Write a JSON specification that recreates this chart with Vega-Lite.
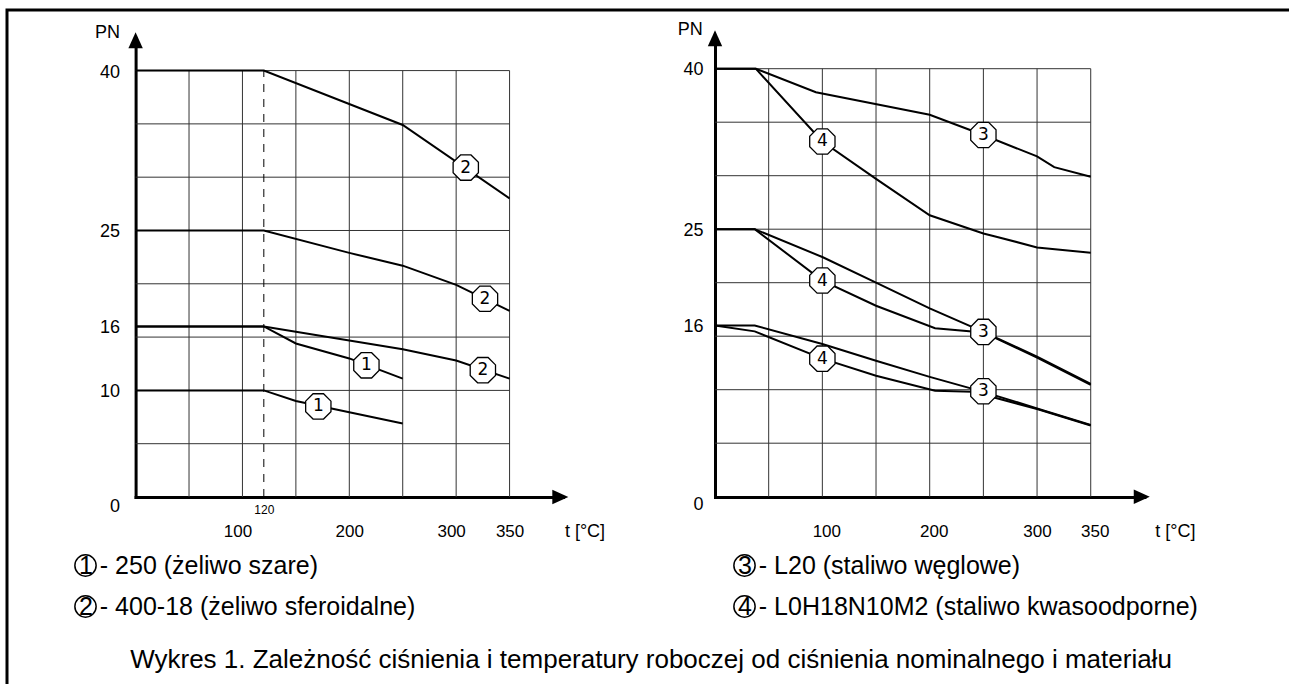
{
  "$schema": "https://vega.github.io/schema/vega-lite/v6.json",
  "width": 1289,
  "height": 684,
  "autosize": {"type": "fit", "contains": "padding"},
  "padding": {"left": 7, "top": 10, "right": -6, "bottom": -6},
  "background": "white",
  "config": {
    "view": {"stroke": "black", "strokeWidth": 3},
    "font": "Liberation Sans"
  },
  "title": {
    "text": "Wykres 1. Zależność ciśnienia i temperatury roboczej od ciśnienia nominalnego i materiału",
    "orient": "bottom",
    "frame": "group",
    "anchor": "middle",
    "offset": -30,
    "baseline": "middle",
    "fontSize": 26,
    "fontWeight": "normal",
    "font": "Liberation Sans",
    "color": "black"
  },
  "datasets": {
    "gridV": [
      {"t": 50, "pn": 0, "pn2": 40}, {"t": 100, "pn": 0, "pn2": 40}, {"t": 150, "pn": 0, "pn2": 40}, {"t": 200, "pn": 0, "pn2": 40},
      {"t": 250, "pn": 0, "pn2": 40}, {"t": 300, "pn": 0, "pn2": 40}, {"t": 350, "pn": 0, "pn2": 40}
    ],
    "gridH": [
      {"pn": 5, "t": 0, "t2": 350}, {"pn": 10, "t": 0, "t2": 350}, {"pn": 15, "t": 0, "t2": 350}, {"pn": 20, "t": 0, "t2": 350},
      {"pn": 25, "t": 0, "t2": 350}, {"pn": 30, "t": 0, "t2": 350}, {"pn": 35, "t": 0, "t2": 350}, {"pn": 40, "t": 0, "t2": 350}
    ],
    "limitL": [{"t": 120, "pn": 0, "pn2": 40}],
    "arrowX": [{"t": 405, "pn": 0}],
    "arrowY": [{"t": 0, "pn": 43.6}],
    "curvesL": [
      {"c": "2-40", "mat": "2", "t": 0, "pn": 40}, {"c": "2-40", "mat": "2", "t": 120, "pn": 40}, {"c": "2-40", "mat": "2", "t": 250, "pn": 34.9}, {"c": "2-40", "mat": "2", "t": 350, "pn": 28.0},
      {"c": "2-25", "mat": "2", "t": 0, "pn": 25}, {"c": "2-25", "mat": "2", "t": 120, "pn": 25}, {"c": "2-25", "mat": "2", "t": 200, "pn": 22.9}, {"c": "2-25", "mat": "2", "t": 250, "pn": 21.7}, {"c": "2-25", "mat": "2", "t": 300, "pn": 19.9}, {"c": "2-25", "mat": "2", "t": 350, "pn": 17.45},
      {"c": "2-16", "mat": "2", "t": 0, "pn": 16}, {"c": "2-16", "mat": "2", "t": 120, "pn": 16}, {"c": "2-16", "mat": "2", "t": 250, "pn": 13.85}, {"c": "2-16", "mat": "2", "t": 300, "pn": 12.8}, {"c": "2-16", "mat": "2", "t": 350, "pn": 11.1},
      {"c": "1-16", "mat": "1", "t": 0, "pn": 16}, {"c": "1-16", "mat": "1", "t": 120, "pn": 16}, {"c": "1-16", "mat": "1", "t": 150, "pn": 14.4}, {"c": "1-16", "mat": "1", "t": 200, "pn": 13.0}, {"c": "1-16", "mat": "1", "t": 250, "pn": 11.1},
      {"c": "1-10", "mat": "1", "t": 0, "pn": 10}, {"c": "1-10", "mat": "1", "t": 120, "pn": 10}, {"c": "1-10", "mat": "1", "t": 150, "pn": 9.0}, {"c": "1-10", "mat": "1", "t": 250, "pn": 6.9}
    ],
    "markersL": [
      {"m": "2", "t": 309, "pn": 30.9},
      {"m": "2", "t": 327, "pn": 18.6},
      {"m": "2", "t": 325, "pn": 11.9},
      {"m": "1", "t": 216, "pn": 12.35},
      {"m": "1", "t": 171, "pn": 8.5}
    ],
    "curvesR": [
      {"c": "3-40", "mat": "3", "t": 0, "pn": 40}, {"c": "3-40", "mat": "3", "t": 38, "pn": 40}, {"c": "3-40", "mat": "3", "t": 94, "pn": 37.8}, {"c": "3-40", "mat": "3", "t": 200, "pn": 35.7}, {"c": "3-40", "mat": "3", "t": 250, "pn": 33.8}, {"c": "3-40", "mat": "3", "t": 300, "pn": 31.8}, {"c": "3-40", "mat": "3", "t": 316, "pn": 30.8}, {"c": "3-40", "mat": "3", "t": 350, "pn": 29.9},
      {"c": "4-40", "mat": "4", "t": 0, "pn": 40}, {"c": "4-40", "mat": "4", "t": 38, "pn": 40}, {"c": "4-40", "mat": "4", "t": 100, "pn": 33.2}, {"c": "4-40", "mat": "4", "t": 150, "pn": 29.7}, {"c": "4-40", "mat": "4", "t": 200, "pn": 26.3}, {"c": "4-40", "mat": "4", "t": 250, "pn": 24.6}, {"c": "4-40", "mat": "4", "t": 262, "pn": 24.3}, {"c": "4-40", "mat": "4", "t": 300, "pn": 23.3}, {"c": "4-40", "mat": "4", "t": 350, "pn": 22.8},
      {"c": "3-25", "mat": "3", "t": 0, "pn": 25}, {"c": "3-25", "mat": "3", "t": 37, "pn": 25}, {"c": "3-25", "mat": "3", "t": 100, "pn": 22.4}, {"c": "3-25", "mat": "3", "t": 150, "pn": 20.0}, {"c": "3-25", "mat": "3", "t": 200, "pn": 17.6}, {"c": "3-25", "mat": "3", "t": 250, "pn": 15.4}, {"c": "3-25", "mat": "3", "t": 300, "pn": 13.1}, {"c": "3-25", "mat": "3", "t": 350, "pn": 10.55},
      {"c": "4-25", "mat": "4", "t": 0, "pn": 25}, {"c": "4-25", "mat": "4", "t": 37, "pn": 25}, {"c": "4-25", "mat": "4", "t": 100, "pn": 20.2}, {"c": "4-25", "mat": "4", "t": 150, "pn": 17.85}, {"c": "4-25", "mat": "4", "t": 205, "pn": 15.75}, {"c": "4-25", "mat": "4", "t": 250, "pn": 15.35}, {"c": "4-25", "mat": "4", "t": 300, "pn": 13.0}, {"c": "4-25", "mat": "4", "t": 350, "pn": 10.45},
      {"c": "3-16", "mat": "3", "t": 0, "pn": 16}, {"c": "3-16", "mat": "3", "t": 37, "pn": 16}, {"c": "3-16", "mat": "3", "t": 100, "pn": 14.27}, {"c": "3-16", "mat": "3", "t": 150, "pn": 12.7}, {"c": "3-16", "mat": "3", "t": 200, "pn": 11.2}, {"c": "3-16", "mat": "3", "t": 250, "pn": 9.8}, {"c": "3-16", "mat": "3", "t": 300, "pn": 8.25}, {"c": "3-16", "mat": "3", "t": 350, "pn": 6.7},
      {"c": "4-16", "mat": "4", "t": 0, "pn": 16}, {"c": "4-16", "mat": "4", "t": 37, "pn": 15.45}, {"c": "4-16", "mat": "4", "t": 100, "pn": 12.9}, {"c": "4-16", "mat": "4", "t": 150, "pn": 11.3}, {"c": "4-16", "mat": "4", "t": 205, "pn": 9.9}, {"c": "4-16", "mat": "4", "t": 240, "pn": 9.8}, {"c": "4-16", "mat": "4", "t": 300, "pn": 8.2}, {"c": "4-16", "mat": "4", "t": 350, "pn": 6.65}
    ],
    "markersR": [
      {"m": "4", "t": 100, "pn": 33.2},
      {"m": "3", "t": 250, "pn": 33.8},
      {"m": "4", "t": 100, "pn": 20.2},
      {"m": "3", "t": 250, "pn": 15.4},
      {"m": "4", "t": 100, "pn": 12.9},
      {"m": "3", "t": 250, "pn": 9.85}
    ]
  },
  "layer": [
    {
      "encoding": {
        "x": {
          "field": "t", "type": "quantitative",
          "scale": {"domain": [0, 400], "range": [128.6, 556.0], "nice": false, "zero": false},
          "axis": {
            "orient": "bottom", "offset": -193, "values": [100, 120, 200, 300, 350],
            "grid": false, "ticks": false, "tickSize": 0,
            "domainColor": "black", "domainWidth": 3, "domainCap": "square",
            "labelColor": "black", "labelFont": "Liberation Sans", "labelBaseline": "middle",
            "labelFontSize": {"condition": {"test": "datum.value === 120", "value": 12}, "value": 17},
            "labelPadding": {"condition": {"test": "datum.value === 120", "value": 12}, "value": 34},
            "labelOffset": {"condition": {"test": "datum.value === 100 || datum.value === 300", "value": -5}, "value": 0},
            "labelOverlap": false, "labelFlush": false,
            "title": "t [°C]", "titleX": 577.5, "titleY": 34, "titleAlign": "center", "titleBaseline": "middle",
            "titleFontSize": 18, "titleFontWeight": "normal", "titleFont": "Liberation Sans", "titleColor": "black"
          }
        },
        "y": {
          "field": "pn", "type": "quantitative",
          "scale": {"domain": [0, 43], "range": [487, 28.6], "nice": false, "zero": false},
          "axis": {
            "orient": "left", "offset": -128.6, "values": [0, 10, 16, 25, 40],
            "grid": false, "ticks": false, "tickSize": 0,
            "domainColor": "black", "domainWidth": 3, "domainCap": "square",
            "labelColor": "black", "labelFont": "Liberation Sans", "labelFontSize": 18,
            "labelPadding": 16, "labelBaseline": "middle", "labelAlign": "right",
            "labelOffset": {"condition": {"test": "datum.value === 0", "value": 9}, "value": 1.5},
            "labelOverlap": false, "labelFlush": false,
            "title": "PN", "titleAngle": 0, "titleX": -28.6, "titleY": 22, "titleAlign": "center", "titleBaseline": "middle",
            "titleFontSize": 18, "titleFontWeight": "normal", "titleFont": "Liberation Sans", "titleColor": "black"
          }
        }
      },
      "layer": [
        {
          "data": {"name": "gridV"},
          "mark": {"type": "rule", "color": "#333333", "strokeWidth": 1},
          "encoding": {"y2": {"field": "pn2"}}
        },
        {
          "data": {"name": "gridH"},
          "mark": {"type": "rule", "color": "#333333", "strokeWidth": 1},
          "encoding": {"x2": {"field": "t2"}}
        },
        {
          "data": {"name": "limitL"},
          "mark": {"type": "rule", "color": "black", "strokeWidth": 1, "strokeDash": [8, 7]},
          "encoding": {"y2": {"field": "pn2"}}
        },
        {
          "data": {"name": "curvesL"},
          "mark": {"type": "line", "strokeWidth": 2},
          "encoding": {
            "detail": {"field": "c"},
            "color": {
              "field": "mat", "type": "nominal",
              "scale": {"domain": ["1", "2"], "range": ["black", "black"]},
              "legend": {
                "orient": "none", "legendX": 66, "legendY": 543, "title": null,
                "symbolType": "circle", "symbolSize": 452, "symbolStrokeWidth": 1.5,
                "symbolStrokeColor": "black", "symbolFillColor": "transparent", "symbolOpacity": 1,
                "labelFontSize": 25, "labelFont": "Liberation Sans", "labelColor": "black",
                "labelLimit": 1000, "labelOffset": -19, "rowPadding": 12, "padding": 0,
                "labelExpr": "datum.label === '1' ? '1 - 250 (żeliwo szare)' : '2 - 400-18 (żeliwo sferoidalne)'"
              }
            }
          }
        },
        {
          "data": {"name": "markersL"},
          "mark": {"type": "point", "shape": "M-0.414,-1L0.414,-1L1,-0.414L1,0.414L0.414,1L-0.414,1L-1,0.414L-1,-0.414Z", "size": 640, "filled": true, "fill": "white", "stroke": "black", "strokeWidth": 1.3, "opacity": 1}
        },
        {
          "data": {"name": "markersL"},
          "mark": {"type": "text", "fontSize": 17, "font": "DejaVu Sans", "fontWeight": "normal", "color": "black", "align": "center", "baseline": "middle"},
          "encoding": {"text": {"field": "m"}}
        },
        {
          "data": {"name": "arrowX"},
          "mark": {"type": "point", "shape": "M0,0L-2,-0.9L-2,0.9Z", "size": 256, "filled": true, "color": "black", "opacity": 1}
        },
        {
          "data": {"name": "arrowY"},
          "mark": {"type": "point", "shape": "M0,0L-0.9,2L0.9,2Z", "size": 256, "filled": true, "color": "black", "opacity": 1}
        }
      ]
    },
    {
      "encoding": {
        "x": {
          "field": "t", "type": "quantitative",
          "scale": {"domain": [0, 400], "range": [708, 1137.4], "nice": false, "zero": false},
          "axis": {
            "orient": "bottom", "offset": -193, "values": [100, 200, 300, 350],
            "grid": false, "ticks": false, "tickSize": 0,
            "domainColor": "black", "domainWidth": 3, "domainCap": "square",
            "labelColor": "black", "labelFont": "Liberation Sans", "labelBaseline": "middle",
            "labelFontSize": 17, "labelPadding": 34,
            "labelOffset": {"condition": {"test": "datum.value !== 300", "value": 4}, "value": 0},
            "labelOverlap": false, "labelFlush": false,
            "title": "t [°C]", "titleX": 1167.8, "titleY": 34, "titleAlign": "center", "titleBaseline": "middle",
            "titleFontSize": 18, "titleFontWeight": "normal", "titleFont": "Liberation Sans", "titleColor": "black"
          }
        },
        "y": {
          "field": "pn", "type": "quantitative",
          "scale": {"domain": [0, 43], "range": [486.7, 26.6], "nice": false, "zero": false},
          "axis": {
            "orient": "left", "offset": -708, "values": [0, 16, 25, 40],
            "grid": false, "ticks": false, "tickSize": 0,
            "domainColor": "black", "domainWidth": 3, "domainCap": "square",
            "labelColor": "black", "labelFont": "Liberation Sans", "labelFontSize": 18,
            "labelPadding": 12, "labelBaseline": "middle", "labelAlign": "right",
            "labelOffset": {"condition": {"test": "datum.value === 0", "value": 8}, "value": 1},
            "labelOverlap": false, "labelFlush": false,
            "title": "PN", "titleAngle": 0, "titleX": -25.3, "titleY": 19, "titleAlign": "center", "titleBaseline": "middle",
            "titleFontSize": 18, "titleFontWeight": "normal", "titleFont": "Liberation Sans", "titleColor": "black"
          }
        }
      },
      "layer": [
        {
          "data": {"name": "gridV"},
          "mark": {"type": "rule", "color": "#333333", "strokeWidth": 1},
          "encoding": {"y2": {"field": "pn2"}}
        },
        {
          "data": {"name": "gridH"},
          "mark": {"type": "rule", "color": "#333333", "strokeWidth": 1},
          "encoding": {"x2": {"field": "t2"}}
        },
        {
          "data": {"name": "curvesR"},
          "mark": {"type": "line", "strokeWidth": 2},
          "encoding": {
            "detail": {"field": "c"},
            "color": {
              "field": "mat", "type": "nominal",
              "scale": {"domain": ["3", "4"], "range": ["black", "black"]},
              "legend": {
                "orient": "none", "legendX": 725, "legendY": 543, "title": null,
                "symbolType": "circle", "symbolSize": 452, "symbolStrokeWidth": 1.5,
                "symbolStrokeColor": "black", "symbolFillColor": "transparent", "symbolOpacity": 1,
                "labelFontSize": 25, "labelFont": "Liberation Sans", "labelColor": "black",
                "labelLimit": 1000, "labelOffset": -19, "rowPadding": 12, "padding": 0,
                "labelExpr": "datum.label === '3' ? '3 - L20 (staliwo węglowe)' : '4 - L0H18N10M2 (staliwo kwasoodporne)'"
              }
            }
          }
        },
        {
          "data": {"name": "markersR"},
          "mark": {"type": "point", "shape": "M-0.414,-1L0.414,-1L1,-0.414L1,0.414L0.414,1L-0.414,1L-1,0.414L-1,-0.414Z", "size": 640, "filled": true, "fill": "white", "stroke": "black", "strokeWidth": 1.3, "opacity": 1}
        },
        {
          "data": {"name": "markersR"},
          "mark": {"type": "text", "fontSize": 17, "font": "DejaVu Sans", "fontWeight": "normal", "color": "black", "align": "center", "baseline": "middle"},
          "encoding": {"text": {"field": "m"}}
        },
        {
          "data": {"name": "arrowX"},
          "mark": {"type": "point", "shape": "M0,0L-2,-0.9L-2,0.9Z", "size": 256, "filled": true, "color": "black", "opacity": 1}
        },
        {
          "data": {"name": "arrowY"},
          "mark": {"type": "point", "shape": "M0,0L-0.9,2L0.9,2Z", "size": 256, "filled": true, "color": "black", "opacity": 1}
        }
      ]
    }
  ],
  "resolve": {
    "scale": {"x": "independent", "y": "independent", "color": "independent"},
    "axis": {"x": "independent", "y": "independent"},
    "legend": {"color": "independent"}
  }
}
